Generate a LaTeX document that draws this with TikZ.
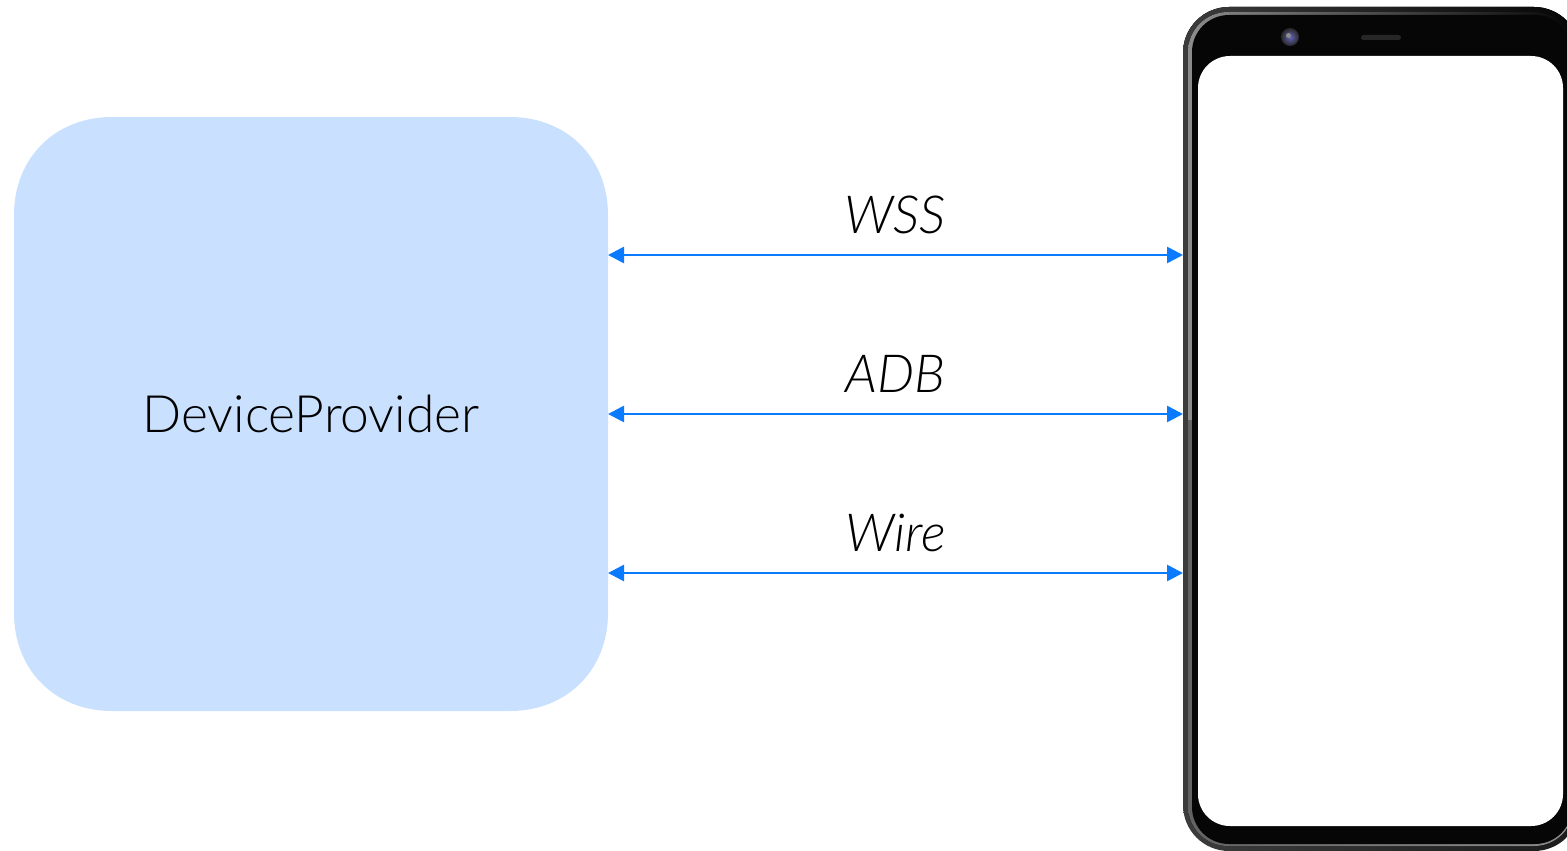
\documentclass[tikz,border=0pt]{standalone}
\usepackage{fontspec}
\setmainfont{Lato Light}
\usetikzlibrary{arrows.meta}

\definecolor{boxblue}{HTML}{C9E1FE}
\definecolor{linkblue}{HTML}{0A7AFF}
\definecolor{bezel}{HTML}{060606}
\definecolor{rim}{HTML}{3C3C3C}
\definecolor{rimlight}{HTML}{8C8C8C}

\tikzset{
    link/.style={linkblue,line width=2.7pt,{Triangle[length=16pt,width=16pt]}-{Triangle[length=16pt,width=16pt]}},
    linklabel/.style={font=\fontsize{52.5}{54}\selectfont\itshape,anchor=base,yshift=22pt,black},
    phonepart/.style={rectangle,inner sep=0pt,outer sep=0pt}
}

\begin{document}
\begin{tikzpicture}[x=1pt,y=-1pt]
\useasboundingbox (0,0) rectangle (1567,851);

% rounded box
\fill[boxblue] (112,117) -- (510,117)
    .. controls (567,117) and (608,158) .. (608,215) -- (608,613)
    .. controls (608,670) and (567,711) .. (510,711) -- (112,711)
    .. controls (55,711) and (14,670) .. (14,613) -- (14,215)
    .. controls (14,158) and (55,117) .. (112,117) -- cycle;
\node (provider) [phonepart,minimum width=594pt,minimum height=594pt,
    font=\fontsize{51.5}{52}\selectfont] at (311,414) {DeviceProvider};

% phone, runs off the right edge
\begin{scope}
    \clip (0,0) rectangle (1567,851);
    \node (phone) [phonepart,minimum width=397pt,minimum height=844pt,rounded corners=46pt,
        left color=rim,right color=rim!45!black] at (1381.5,429) {};
    \begin{scope}
        \clip (1180,0) rectangle (1567,420);
        \fill[left color=rim,middle color=rim!60!black,right color=bezel,rounded corners=46pt]
            (1183,7) rectangle (1580,851);
        \fill[left color=rimlight,middle color=rim,right color=bezel,rounded corners=40pt]
            (1188,12) rectangle (1574,846);
    \end{scope}
    \begin{scope}
        \clip (1180,420) rectangle (1567,851);
        \fill[left color=rim!80!white,right color=rimlight,rounded corners=40pt]
            (1188,12) rectangle (1574,846);
    \end{scope}
    \fill[bezel,rounded corners=37pt] (1192,15) rectangle (1572,844);
    \node (screen) [phonepart,fill=white,minimum width=365pt,minimum height=770pt,
        rounded corners=32pt] at (1380.5,441) {};
    \node (camera) [circle,minimum size=18pt,inner sep=0pt,shading=radial,
        inner color=black!45!blue!60!white,outer color=black!85!white] at (1290,37) {};
    \fill[black!45!white] (1288.5,35.5) circle (2.5pt);
    \node (speaker) [phonepart,fill=black!85!white,minimum width=40pt,minimum height=5pt,
        rounded corners=2.5pt] at (1381,37.5) {};
\end{scope}

% connections
\foreach \y/\lab in {255/WSS,414/ADB,573/Wire}
    \draw[link] (provider.east |- 0,\y) -- node[linklabel] {\lab} (phone.west |- 0,\y);

\end{tikzpicture}
\end{document}
